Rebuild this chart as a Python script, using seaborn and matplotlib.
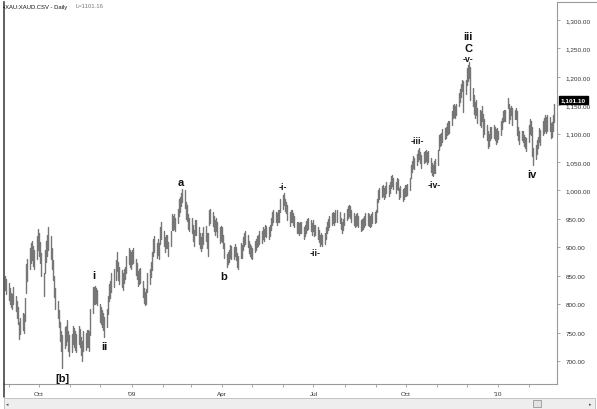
import matplotlib
matplotlib.use("Agg")
import matplotlib.pyplot as plt
import matplotlib.dates as mdates
import matplotlib.ticker as mticker
from matplotlib.patches import Rectangle
from matplotlib.lines import Line2D
import numpy as np
import pandas as pd
import seaborn as sns

# ---------------- data (daily bars) ----------------
start_date = "2008-08-28"

lows = [
    825, 818,                                                               # Aug 08
    808, 800, 795, 792, 800, 788, 775, 765, 738, 748, 755, 750, 770, 820, 840,
    862, 872, 878, 868, 862, 880, 895,                                      # Sep 08
    885, 872, 850, 815, 855, 875, 885, 895, 880, 862, 842, 812, 792, 775, 760,
    735, 718, 688, 722, 728, 735, 718, 708,                                 # Oct 08
    715, 730, 725, 720, 715, 730, 725, 710, 700, 718, 720, 725, 725, 718, 745,
    785, 800, 800, 802, 798,                                                # Nov 08
    768, 765, 760, 755, 742, 760, 782, 805, 810, 822, 830, 842, 858, 842, 835,
    830, 825, 838, 845, 855, 870, 866, 862,                                 # Dec 08
    870, 872, 852, 845, 832, 835, 838, 812, 802, 798, 800, 822, 835, 848, 860,
    885, 892, 882, 886, 880, 905, 915,                                      # Jan 09
    902, 892, 898, 898, 885, 902, 930, 930, 932, 928, 942, 955, 962, 972, 980,
    970, 950, 946, 932, 928,                                                # Feb 09
    925, 912, 902, 922, 922, 905, 898, 893, 898, 905, 912, 898, 885, 940, 942,
    938, 928, 922, 928, 918, 908, 912,                                      # Mar 09
    910, 898, 882, 865, 870, 874, 882, 880, 880, 885, 878, 866, 862, 882, 882,
    895, 902, 905, 900, 890, 885, 882,                                      # Apr 09
    880, 892, 896, 900, 902, 905, 908, 915, 912, 920, 918, 915, 920, 930, 940,
    945, 944, 940, 945, 945, 962,                                           # May 09
    968, 975, 964, 960, 948, 938, 945, 944, 940, 935, 925, 925, 922, 925, 925,
    915, 920, 925, 930, 932, 928, 922,                                      # Jun 09
    928, 920, 922, 915, 910, 903, 905, 903, 905, 915, 925, 930, 935, 940, 942,
    940, 945, 945, 942, 932, 925, 930, 940,                                 # Jul 09
    948, 952, 955, 952, 945, 940, 935, 938, 940, 935, 928, 930, 932, 935, 940,
    940, 938, 935, 938, 942, 942,                                           # Aug 09
    945, 962, 980, 985, 988, 990, 985, 988, 995, 990, 995, 1005, 1008, 1002, 995,
    1002, 1000, 985, 988, 982, 985, 990,                                    # Sep 09
    990, 992, 1000, 1022, 1032, 1040, 1038, 1045, 1052, 1055, 1048, 1040, 1048,
    1050, 1052, 1046, 1050, 1032, 1028, 1025, 1030, 1030,                   # Oct 09
    1045, 1072, 1078, 1080, 1085, 1090, 1092, 1098, 1100, 1102, 1115, 1128, 1130,
    1128, 1132, 1148, 1155, 1165, 1175, 1138, 1170,                         # Nov 09
    1185, 1192, 1198, 1160, 1148, 1135, 1128, 1132, 1118, 1115, 1112, 1122, 1095,
    1100, 1088, 1075, 1078, 1088, 1092, 1092, 1088, 1082, 1085,             # Dec 09
    1090, 1098, 1108, 1120, 1122, 1122, 1145, 1118, 1125, 1132, 1115, 1125, 1125,
    1098, 1088, 1082, 1088, 1085, 1078, 1075, 1070,                         # Jan 10
    1085, 1100, 1098, 1060, 1044, 1055, 1065, 1075, 1085, 1080, 1098, 1102, 1105,
    1102, 1105, 1105, 1092, 1095, 1105, 1120,                               # Feb 10
]

highs = [
    850, 845,
    838, 828, 820, 818, 830, 815, 805, 795, 768, 775, 785, 782, 810, 870, 880,
    898, 908, 912, 902, 895, 920, 932,
    925, 910, 890, 855, 895, 912, 922, 935, 920, 898, 878, 850, 828, 805, 790,
    768, 752, 745, 760, 762, 772, 752, 745,
    748, 762, 758, 752, 748, 762, 756, 742, 735, 752, 750, 755, 755, 752, 792,
    830, 830, 832, 828, 825,
    800, 795, 790, 785, 778, 792, 815, 835, 840, 855, 862, 878, 892, 875, 865,
    860, 855, 862, 865, 885, 898, 895, 892,
    895, 898, 880, 872, 858, 862, 864, 840, 828, 822, 826, 855, 862, 875, 892,
    915, 920, 908, 914, 908, 935, 945,
    928, 918, 922, 922, 910, 928, 958, 955, 958, 952, 968, 985, 988, 996, 1002,
    1000, 980, 975, 958, 952,
    952, 940, 930, 948, 948, 935, 925, 918, 925, 935, 938, 925, 925, 965, 968,
    962, 955, 948, 952, 945, 935, 938,
    935, 922, 908, 888, 892, 896, 904, 902, 900, 906, 900, 890, 884, 908, 904,
    918, 925, 928, 922, 912, 906, 902,
    898, 912, 915, 920, 922, 928, 928, 936, 932, 940, 938, 935, 940, 952, 962,
    966, 962, 960, 965, 966, 985,
    992, 995, 985, 980, 975, 962, 965, 966, 960, 955, 945, 945, 942, 945, 945,
    935, 940, 946, 950, 952, 948, 942,
    948, 940, 940, 935, 930, 922, 925, 922, 925, 935, 945, 950, 955, 960, 962,
    960, 965, 965, 962, 952, 945, 950, 960,
    968, 972, 975, 972, 965, 960, 955, 958, 960, 955, 948, 950, 952, 955, 960,
    960, 958, 955, 958, 962, 962,
    965, 985, 1000, 1005, 1008, 1010, 1005, 1008, 1015, 1010, 1015, 1025, 1028,
    1022, 1015, 1022, 1020, 1005, 1008, 1002, 1005, 1010,
    1010, 1012, 1022, 1045, 1052, 1060, 1058, 1065, 1072, 1075, 1068, 1062, 1068,
    1070, 1072, 1068, 1070, 1058, 1048, 1045, 1052, 1055,
    1072, 1098, 1100, 1102, 1108, 1110, 1112, 1118, 1122, 1122, 1140, 1150, 1152,
    1148, 1152, 1172, 1178, 1188, 1195, 1192, 1195,
    1215, 1220, 1226, 1218, 1180, 1168, 1155, 1160, 1145, 1142, 1140, 1148, 1135,
    1125, 1115, 1105, 1100, 1112, 1112, 1115, 1112, 1108, 1110,
    1105, 1122, 1128, 1140, 1142, 1142, 1162, 1152, 1145, 1148, 1145, 1142, 1145,
    1140, 1112, 1105, 1105, 1104, 1098, 1095, 1092,
    1115, 1125, 1122, 1112, 1075, 1080, 1088, 1095, 1110, 1106, 1122, 1128, 1132,
    1130, 1132, 1130, 1118, 1120, 1132, 1152,
]

y_ticks = [700, 750, 800, 850, 900, 950, 1000, 1050, 1100, 1150, 1200, 1250, 1300]
x_tick_dates = ["2008-10-01", "2009-01-01", "2009-04-01", "2009-07-01", "2009-10-01", "2010-01-01"]
x_tick_labels = ["Oct", "'09", "Apr", "Jul", "Oct", "'10"]

wave_texts = ["[b]", "i", "ii", "a", "b", "-i-", "-ii-", "-iii-", "-iv-", "iii", "C", "-v-", "iv"]
wave_dates = ["2008-10-24", "2008-11-24", "2008-12-05", "2009-02-19", "2009-04-03",
              "2009-06-01", "2009-07-03", "2009-10-13", "2009-10-29", "2009-12-02",
              "2009-12-02", "2009-12-02", "2010-02-04"]
wave_side = ["low", "high", "low", "high", "low", "high", "low", "high", "low",
             "high", "high", "high", "low"]

title_text = "\u2022XAU:XAUD.CSV - Daily"
last_text = "L=1101.16"
last_box_text = "1,101.10"

# ---------------- style ----------------
sns.set_theme(style="white")
plt.rcParams["font.family"] = ["Liberation Sans", "DejaVu Sans"]

dates = pd.bdate_range(start_date, periods=len(highs))
df = pd.DataFrame({"date": dates, "low": lows, "high": highs})
long = df.melt(id_vars="date", value_vars=["low", "high"], value_name="price")

W, H = 597, 410
fig = plt.figure(figsize=(W / 100, H / 100), dpi=100)
fig.patch.set_facecolor("white")
ax = fig.add_axes([4 / W, 1 - 385 / H, (557 - 4) / W, (385 - 3) / H])

sns.lineplot(data=long, x="date", y="price", units="date", estimator=None,
             color="#767676", lw=1.0, ax=ax, legend=False)

ax.set_xlim(pd.Timestamp("2008-08-27"), pd.Timestamp("2010-02-28 12:00"))
ax.set_ylim(659.5, 1331.7)
ax.set_xlabel("")
ax.set_ylabel("")

# y axis on the right
ax.yaxis.tick_right()
ax.set_yticks(y_ticks)
ax.yaxis.set_major_formatter(mticker.FuncFormatter(lambda v, p: f"{v:,.2f}"))
ax.tick_params(axis="y", which="both", right=True, left=False, length=2, width=0.5,
               color="#888888", labelsize=4.6, labelcolor="#333333", pad=4)

# x axis
ax.set_xticks(pd.to_datetime(x_tick_dates))
ax.set_xticklabels(x_tick_labels)
ax.xaxis.set_minor_locator(mdates.MonthLocator())
ax.tick_params(axis="x", which="both", bottom=True, length=2, width=0.5,
               color="#888888", labelsize=4.6, labelcolor="#333333", pad=3)

ax.spines["top"].set_visible(False)
ax.spines["left"].set_color("#444444")
ax.spines["left"].set_linewidth(1.2)
ax.spines["right"].set_color("#9a9a9a")
ax.spines["right"].set_linewidth(0.8)
ax.spines["bottom"].set_color("#9a9a9a")
ax.spines["bottom"].set_linewidth(0.8)
ax.grid(False)

# wave labels anchored to bar extremes
big = {"[b]", "i", "ii", "a", "b", "iii", "C", "iv"}
offsets = {"[b]": -10, "i": 11, "ii": -9, "a": 7, "b": -9, "-i-": 7, "-ii-": -7,
           "-iii-": 7, "-iv-": -8, "iii": 26, "C": 14, "-v-": 4, "iv": -9}
for txt, d, side in zip(wave_texts, wave_dates, wave_side):
    d = pd.Timestamp(d)
    win = df[(df.date >= d - pd.Timedelta(days=5)) & (df.date <= d + pd.Timedelta(days=5))]
    yv = win.high.max() if side == "high" else win.low.min()
    fs = 8 if txt in big else 6.2
    ax.annotate(txt, xy=(d, yv), xytext=(0, offsets[txt]), textcoords="offset pixels",
                ha="center", va="center", fontsize=fs, fontweight="bold", color="#111111")

# last value box
ax.annotate(last_box_text, xy=(1, highs[-1]), xycoords=("axes fraction", "data"),
            xytext=(4, 4), textcoords="offset pixels", ha="left", va="center",
            fontsize=4.6, fontweight="bold", color="white",
            bbox=dict(boxstyle="square,pad=0.25", fc="black", ec="black"))

# title
fig.text(3 / W, 1 - 7 / H, title_text, fontsize=4.2, va="center", ha="left", color="#111111")
fig.text(76 / W, 1 - 7 / H, last_text, fontsize=4.2, va="center", ha="left", color="#777777")

# frame pieces and scrollbar
fig.add_artist(Line2D([557 / W, 1], [1 - 3 / H, 1 - 3 / H], transform=fig.transFigure,
                      color="#9a9a9a", lw=0.8))
fig.add_artist(Line2D([4 / W, 4 / W], [1 - 385 / H, 1 - 398 / H], transform=fig.transFigure,
                      color="#444444", lw=1.2))
fig.add_artist(Rectangle((4 / W, 0.5 / H), (595 - 4) / W, 10.5 / H, transform=fig.transFigure,
                         fc="#eeeeee", ec="#bbbbbb", lw=0.6))
fig.add_artist(Rectangle((533 / W, 2.5 / H), 8 / W, 7 / H, transform=fig.transFigure,
                         fc="#e2e2e2", ec="#888888", lw=0.5))
fig.text(7 / W, 5.5 / H, "\u25c2", fontsize=3.5, ha="center", va="center", color="#555555",
         family=["DejaVu Sans"])
fig.text(590 / W, 5.5 / H, "\u25b8", fontsize=3.5, ha="center", va="center", color="#555555",
         family=["DejaVu Sans"])

fig.savefig("out.png", dpi=100, facecolor="white")
